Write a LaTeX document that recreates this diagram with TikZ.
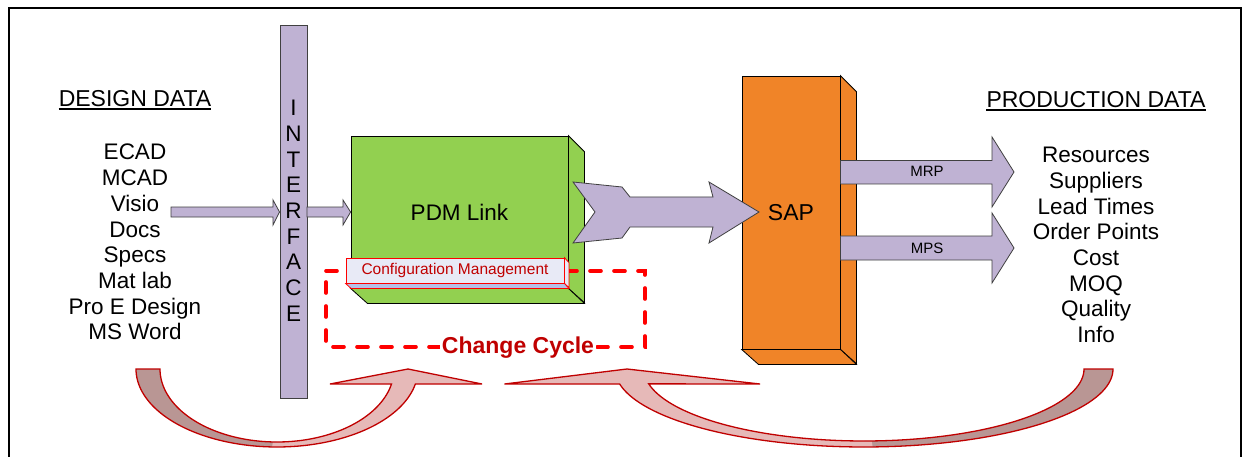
\documentclass[tikz,border=0pt]{standalone}
\usepackage{fontspec}
\setmainfont{Liberation Sans}
\definecolor{lav}{RGB}{191,178,211}
\definecolor{sapor}{RGB}{240,132,40}
\definecolor{pdmgreen}{RGB}{146,208,80}
\definecolor{curvL}{RGB}{230,185,184}
\definecolor{curvD}{RGB}{185,150,148}
\definecolor{dred}{RGB}{192,0,0}
\definecolor{cfgfront}{RGB}{232,234,246}
\definecolor{cfgbot}{RGB}{180,192,232}
\definecolor{arrline}{RGB}{64,64,64}
\begin{document}
\begin{tikzpicture}[x=1pt,y=-1pt,
  listtext/.style={anchor=base,inner sep=0pt,font=\fontsize{22.5}{25}\selectfont},
  headtext/.style={anchor=base,inner sep=0pt,font=\fontsize{23}{25}\selectfont},
  ifletter/.style={anchor=base,inner sep=0pt,font=\fontsize{22.5}{25}\selectfont},
  blockarrow/.style={fill=lav,draw=arrline,line width=0.8pt,line join=miter},
  face/.style={draw=black,line width=0.8pt},
  curvedark/.style={fill=curvD},
  curvelight/.style={fill=curvL},
  curveline/.style={draw=dred,line width=1.3pt,line join=miter},
  cyclebox/.style={draw=red,line width=3.6pt,dash pattern=on 11pt off 13pt,line cap=round}
]
\useasboundingbox (0,0) rectangle (1244,457);
\fill[white] (0,0) rectangle (1244,457);
% frame
\draw[line width=2pt] (8.5,470) -- (8.5,8.5) -- (1240.5,8.5) -- (1240.5,470);

% design data
\node[headtext] (dd) at (135,107) {DESIGN DATA};
\draw[line width=1.4pt] ([yshift=-2.2pt]dd.base west) -- ([yshift=-2.2pt]dd.base east);
\foreach \t [count=\i from 0] in {ECAD,MCAD,Visio,Docs,Specs,Mat lab,Pro E Design,MS Word}
  \node[listtext] (d\i) at (135,{160+25.7*\i}) {\t};

% production data
\node[headtext] (pd) at (1096,108) {PRODUCTION DATA};
\draw[line width=1.4pt] ([yshift=-2.2pt]pd.base west) -- ([yshift=-2.2pt]pd.base east);
\foreach \t [count=\i from 0] in {Resources,Suppliers,Lead Times,Order Points,Cost,MOQ,Quality,Info}
  \node[listtext] (p\i) at (1096,{163+25.6*\i}) {\t};

% interface bar
\node[fill=lav,draw=arrline,line width=0.9pt,minimum width=27pt,minimum height=373pt,inner sep=0pt] (intf) at (293.5,211.5) {};
\foreach \t [count=\i from 0] in {I,N,T,E,R,F,A,C,E}
  \node[ifletter] (if\i) at (293.5,{116+25.65*\i}) {\t};

% small arrows
\filldraw[blockarrow] (171,207) -- (273,207) -- (273,200) -- (intf.west |- 0,212) -- (273,225) -- (273,217) -- (171,217) -- cycle;

% PDM box
\node[fill=pdmgreen,face,minimum width=217pt,minimum height=152pt,inner sep=0pt,
      font=\fontsize{22.5}{26}\selectfont] (pdm) at (459.5,212) {PDM Link};
\filldraw[fill=pdmgreen,face] (pdm.north east) -- ++(16,16) -- ++(0,151) -- (pdm.south east) -- cycle;
\filldraw[fill=pdmgreen,face] (pdm.south west) -- (pdm.south east) -- ++(16,15) -- ++(-217,0) -- cycle;

\filldraw[blockarrow] (307,207) -- (343,207) -- (343,200) -- (pdm.west |- 0,212) -- (343,225) -- (343,217) -- (307,217) -- cycle;

% change cycle dashed box
\draw[cyclebox] (326,271) -- (645,271) -- (645,347) -- (326,347) -- cycle;

% configuration management bar
\node[fill=cfgfront,draw=red,line width=0.8pt,minimum width=218pt,minimum height=25pt,inner sep=0pt,
      text=dred,font=\fontsize{15.5}{18}\selectfont] (cfg) at (455,270.5) {Configuration Management};
\filldraw[fill=cfgfront,draw=red,line width=0.8pt] (cfg.north east) -- ++(4.5,5) -- ++(0,25) -- (cfg.south east) -- cycle;
\filldraw[fill=cfgbot,draw=red,line width=0.8pt] (cfg.south west) -- (cfg.south east) -- ++(4.5,5) -- ++(-218,0) -- cycle;

\node[fill=white,inner sep=1.5pt,anchor=base,text=dred,font=\bfseries\fontsize{23}{26}\selectfont] (cc) at (518,353) {Change Cycle};

% SAP box
\node[fill=sapor,face,minimum width=98pt,minimum height=273pt,inner sep=0pt,
      font=\fontsize{23}{26}\selectfont] (sap) at (791,212.5) {SAP};
\filldraw[fill=sapor,face] (sap.north east) -- ++(16,16) -- ++(0,272) -- (sap.south east) -- cycle;
\filldraw[fill=sapor,face] (sap.south west) -- (sap.south east) -- ++(16,15) -- ++(-98,0) -- cycle;

% big arrow PDM -> SAP
\filldraw[blockarrow] (573,182) -- (622,187) -- (630,197) -- (713,197) -- (709,182) -- (759,212)
  -- (709,243) -- (713,227) -- (630,227) -- (622,238) -- (573,243) -- (595,212) -- cycle;

% MRP / MPS arrows
\filldraw[blockarrow] (sap.east |- 0,160.5) -- (992,160.5) -- (992,137) -- (1014,172) -- (992,207) -- (992,184) -- (sap.east |- 0,184) -- cycle;
\node[inner sep=0pt,anchor=base,font=\fontsize{15}{18}\selectfont] (mrp) at (927,176.5) {MRP};
\filldraw[blockarrow] (sap.east |- 0,236) -- (992,236) -- (992,213) -- (1014,248) -- (992,283) -- (992,260) -- (sap.east |- 0,260) -- cycle;
\node[inner sep=0pt,anchor=base,font=\fontsize{15}{18}\selectfont] (mps) at (927,253) {MPS};

% curved arrow 1 (design data -> change cycle)
\fill[curvedark] plot[domain=180:90,samples=40] ({277+141*cos(\x)},{369+78*sin(\x)})
  -- plot[domain=90:180,samples=40] ({277+117*cos(\x)},{369+73*sin(\x)}) -- cycle;
\fill[curvelight] plot[domain=92:11.1,samples=40] ({277+141*cos(\x)},{369+78*sin(\x)})
  -- (482,384) -- (408,369) -- (330,384)
  -- plot[domain=11.86:92,samples=40] ({277+117*cos(\x)},{369+73*sin(\x)}) -- cycle;
\draw[curveline] plot[domain=180:11.1,samples=80] ({277+141*cos(\x)},{369+78*sin(\x)})
  -- (482,384) -- (408,369) -- (330,384)
  -- plot[domain=11.86:180,samples=80] ({277+117*cos(\x)},{369+73*sin(\x)}) -- cycle;

% curved arrow 2 (production data -> change cycle)
\fill[curvedark] plot[domain=0:90,samples=40] ({864+249*cos(\x)},{369+78*sin(\x)})
  -- plot[domain=90:0,samples=40] ({864+220*cos(\x)},{369+72*sin(\x)}) -- cycle;
\fill[curvelight] plot[domain=88:168.9,samples=40] ({864+249*cos(\x)},{369+78*sin(\x)})
  -- (504.5,384) -- (627,369) -- (760,384)
  -- plot[domain=168.1:88,samples=40] ({864+220*cos(\x)},{369+72*sin(\x)}) -- cycle;
\draw[curveline] plot[domain=0:168.9,samples=80] ({864+249*cos(\x)},{369+78*sin(\x)})
  -- (504.5,384) -- (627,369) -- (760,384)
  -- plot[domain=168.1:0,samples=80] ({864+220*cos(\x)},{369+72*sin(\x)}) -- cycle;
\end{tikzpicture}
\end{document}
